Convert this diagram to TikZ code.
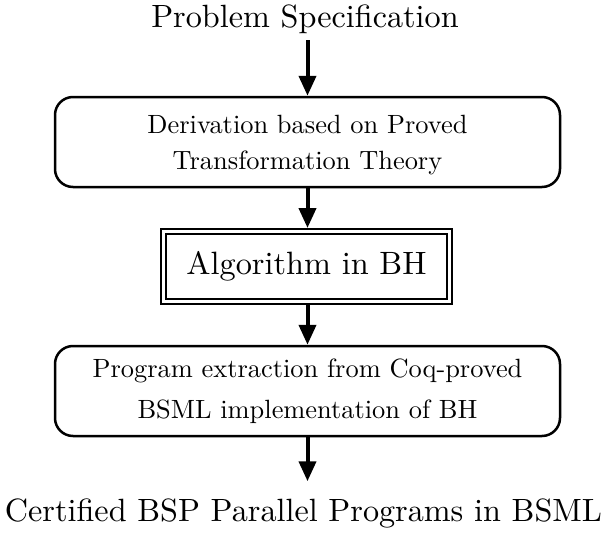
\documentclass[tikz,border=0pt]{standalone}
\usepackage{fontspec}
\setmainfont{lmroman10-regular.otf}
\usetikzlibrary{arrows.meta}
\begin{document}
\begin{tikzpicture}[x=1pt,y=-1pt,
  flowarrow/.style={line width=4pt,-{Triangle[width=17pt,length=20pt]}},
  roundbox/.style={draw,line width=2.5pt,rounded corners=18pt,minimum width=505pt,minimum height=90pt,align=center,inner sep=0pt},
  outerbox/.style={draw,line width=2pt,minimum width=291pt,minimum height=75pt,inner sep=0pt},
  innerline/.style={line width=2.8pt},
  titletext/.style={font=\fontsize{32.2}{38}\selectfont,inner sep=0pt},
  boxtext/.style={font=\fontsize{26.4}{36}\selectfont,align=center,inner sep=0pt},
  algtext/.style={font=\fontsize{32.3}{38}\selectfont}
]
\useasboundingbox (0,0) rectangle (606,533);
\node[titletext,anchor=base] (spec) at (305,27) {Problem Specification};
\node[roundbox] (deriv) at (307.5,142) {};
\node[boxtext] (derivtext) at (307.5,145) {Derivation based on Proved\\Transformation Theory};
\node[outerbox,algtext] (alg) at (306.5,266.5) {Algorithm in BH};
\draw[innerline] ([shift={(6,6)}]alg.north west) rectangle ([shift={(-6,-6)}]alg.south east);
\node[roundbox] (extract) at (307.5,391) {};
\node[boxtext] (extracttext) at (307.5,391) {Program extraction from Coq-proved\\[5pt]BSML implementation of BH};
\node[titletext,anchor=base] (cert) at (303.5,521) {Certified BSP Parallel Programs in BSML};
\coordinate (s1) at (307.5,40);
\draw[flowarrow] (s1) -- (deriv.north);
\draw[flowarrow] (deriv.south) -- (deriv.south |- alg.north);
\draw[flowarrow] (deriv.south |- alg.south) -- (extract.north);
\coordinate (endp) at ([yshift=-44]extract.south);
\draw[flowarrow] (extract.south) -- (endp);
\end{tikzpicture}
\end{document}
